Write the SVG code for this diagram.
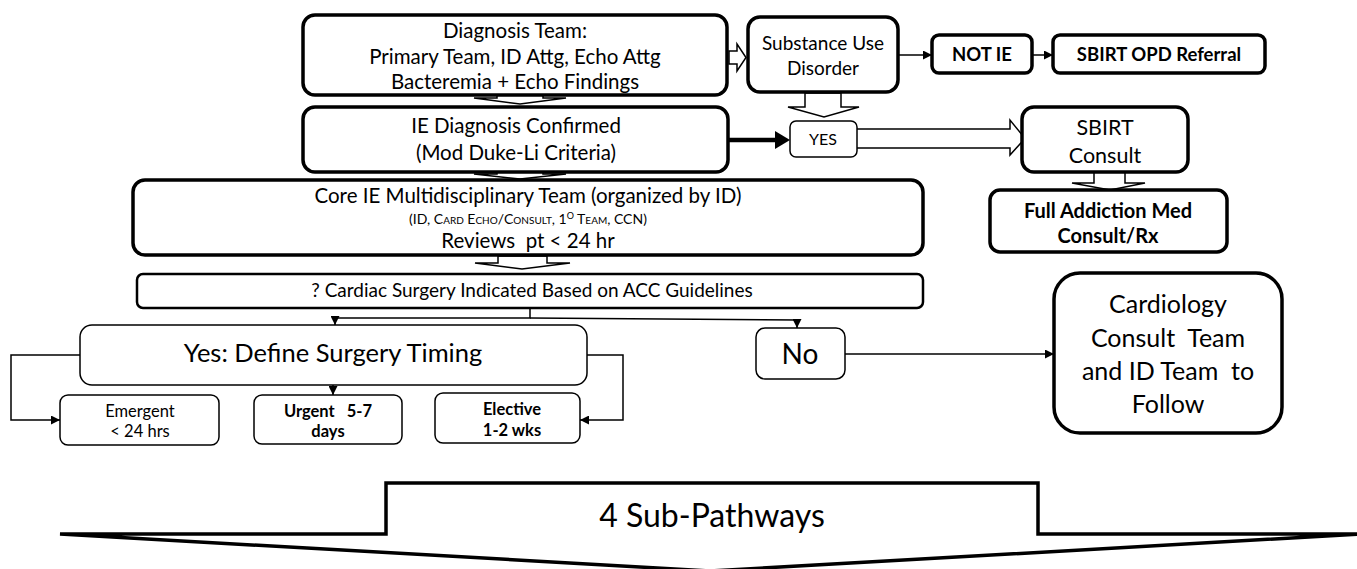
<svg xmlns="http://www.w3.org/2000/svg" width="1357" height="569" viewBox="0 0 1357 569">
<style>
text{font-family:Lato,"Liberation Sans",sans-serif;fill:#000;text-anchor:middle;white-space:pre}
.b{font-weight:bold}
.box{fill:#fff;stroke:#000}
.thick{stroke-width:3.5}
.med{stroke-width:2.5}
.thin{stroke-width:1.5}
.blk{fill:#fff;stroke:#000;stroke-width:1.5;stroke-linejoin:miter}
.ln{fill:none;stroke:#000;stroke-width:1.5}
</style>
<defs>
<marker id="ah" viewBox="0 0 10 10" refX="10" refY="5" markerWidth="9" markerHeight="9" markerUnits="userSpaceOnUse" orient="auto">
<path d="M0,0 L10,5 L0,10 z" fill="#000"/>
</marker>
</defs>

<g id="connectors">
<polygon class="blk" points="497,93 543,93 543,98 566,98 520,104 474,98 497,98"/>
<polygon class="blk" points="497,170 543,170 543,174 566,174 520,179 474,174 497,174"/>
<polygon class="blk" points="498,256 547,256 547,263 570,263 522,269 475,263 498,263"/>
<polygon class="blk" points="729,51 737,51 737,44 746,57.5 737,71 737,64 729,64"/>
<polygon class="blk" points="805,93 841,93 841,107 859,107 824,117 788,107 805,107"/>
<polygon class="blk" points="855,129 1010,129 1010,120 1025,138.5 1010,155 1010,148 855,148"/>
<polygon class="blk" points="1094,171 1125,171 1125,183 1145,183 1110,190 1072,183 1094,183"/>
<line x1="728" y1="140" x2="777" y2="140" stroke="#000" stroke-width="4.5"/>
<polygon points="775,131 790,140 775,149" fill="#000"/>
<line class="ln" x1="898" y1="55" x2="932" y2="55" marker-end="url(#ah)"/>
<line class="ln" x1="1032" y1="55" x2="1053" y2="55" marker-end="url(#ah)"/>
<path class="ln" d="M530,308 L530,318 L335,318 L335,325" marker-end="url(#ah)"/>
<path class="ln" d="M530,318 L797,320 L797,328" marker-end="url(#ah)"/>
<path class="ln" d="M80,355 L11,355 L11,420 L60,420" marker-end="url(#ah)"/>
<path class="ln" d="M587,355 L623,355 L623,420 L580,420" marker-end="url(#ah)"/>
<path class="ln" d="M333,385 L333,395" marker-end="url(#ah)"/>
<path class="ln" d="M845,354 L1054,354" marker-end="url(#ah)"/>
</g>

<g id="diagnosis-team">
<rect class="box thick" x="303" y="15" width="424" height="80" rx="12"/>
<text x="515" y="38" font-size="20.5">Diagnosis Team:</text>
<text x="515" y="64" font-size="20.5">Primary Team, ID Attg, Echo Attg</text>
<text x="515" y="89" font-size="20.5">Bacteremia + Echo Findings</text>
</g>

<g id="ie-diagnosis">
<rect class="box thick" x="303" y="107" width="425" height="65" rx="12"/>
<text x="516" y="133" font-size="20.5">IE Diagnosis Confirmed</text>
<text x="516" y="160" font-size="20.5">(Mod Duke-Li Criteria)</text>
</g>

<g id="core-team">
<rect class="box thick" x="133" y="180" width="790" height="75" rx="12"/>
<text x="528" y="203" font-size="20.5">Core IE Multidisciplinary Team (organized by ID)</text>
<text x="528" y="224" font-size="14" style="font-variant:small-caps">(ID, Card Echo/Consult, 1<tspan font-size="9" dy="-5">O</tspan><tspan dy="5"> Team, CCN)</tspan></text>
<text x="528" y="248" font-size="20.5">Reviews  pt &lt; 24 hr</text>
</g>

<g id="cardiac-surgery">
<rect class="box med" x="137" y="274" width="786" height="34" rx="6"/>
<text x="532" y="297" font-size="19">? Cardiac Surgery Indicated Based on ACC Guidelines</text>
</g>

<g id="substance-use">
<rect class="box thick" x="748" y="17" width="150" height="75" rx="12"/>
<text x="823" y="50" font-size="19">Substance Use</text>
<text x="823" y="75" font-size="19">Disorder</text>
</g>

<g id="not-ie">
<rect class="box thick" x="932" y="35" width="100" height="38" rx="7"/>
<text class="b" x="982" y="61" font-size="18.5">NOT IE</text>
</g>

<g id="sbirt-opd">
<rect class="box thick" x="1053" y="35" width="212" height="38" rx="7"/>
<text class="b" x="1159" y="61" font-size="18.5">SBIRT OPD Referral</text>
</g>

<g id="yes-sud">
<rect class="box thin" x="790" y="121" width="67" height="36" rx="6"/>
<text x="823" y="145" font-size="16">YES</text>
</g>

<g id="sbirt-consult">
<rect class="box thick" x="1022" y="107" width="166" height="65" rx="12"/>
<text x="1105" y="135" font-size="21.5">SBIRT</text>
<text x="1105" y="163" font-size="21.5">Consult</text>
</g>

<g id="full-addiction">
<rect class="box thick" x="990" y="190" width="237" height="62" rx="10"/>
<text class="b" x="1108" y="218" font-size="20">Full Addiction Med</text>
<text class="b" x="1108" y="243" font-size="20">Consult/Rx</text>
</g>

<g id="yes-timing">
<rect class="box thin" x="80" y="325" width="507" height="60" rx="12"/>
<text x="333" y="362" font-size="25.5">Yes: Define Surgery Timing</text>
</g>

<g id="no">
<rect class="box thin" x="756" y="328" width="89" height="51" rx="9"/>
<text x="800" y="364" font-size="28">No</text>
</g>

<g id="cardiology">
<rect class="box thick" x="1054" y="273" width="228" height="160" rx="26"/>
<text x="1168" y="313" font-size="25">Cardiology</text>
<text x="1168" y="347" font-size="25">Consult  Team</text>
<text x="1168" y="380" font-size="25">and ID Team  to</text>
<text x="1168" y="413" font-size="25">Follow</text>
</g>

<g id="emergent">
<rect class="box thin" x="60" y="395" width="159" height="50" rx="8"/>
<text x="140" y="417" font-size="16.5">Emergent</text>
<text x="140" y="437" font-size="16.5">&lt; 24 hrs</text>
</g>

<g id="urgent">
<rect class="box thin" x="254" y="395" width="148" height="49" rx="8"/>
<text class="b" x="328" y="417" font-size="16.5">Urgent   5-7</text>
<text class="b" x="328" y="437" font-size="16.5">days</text>
</g>

<g id="elective">
<rect class="box thin" x="435" y="393" width="145" height="50" rx="8"/>
<text class="b" x="512" y="415" font-size="16.5">Elective</text>
<text class="b" x="512" y="436" font-size="16.5">1-2 wks</text>
</g>

<g id="sub-pathways">
<polygon points="60,534 386,534 386,483 1038,483 1038,534 1362,534 710,571" fill="#fff" stroke="#000" stroke-width="3.5" stroke-linejoin="miter"/>
<text x="712" y="527" font-size="32">4 Sub-Pathways</text>
</g>
</svg>
